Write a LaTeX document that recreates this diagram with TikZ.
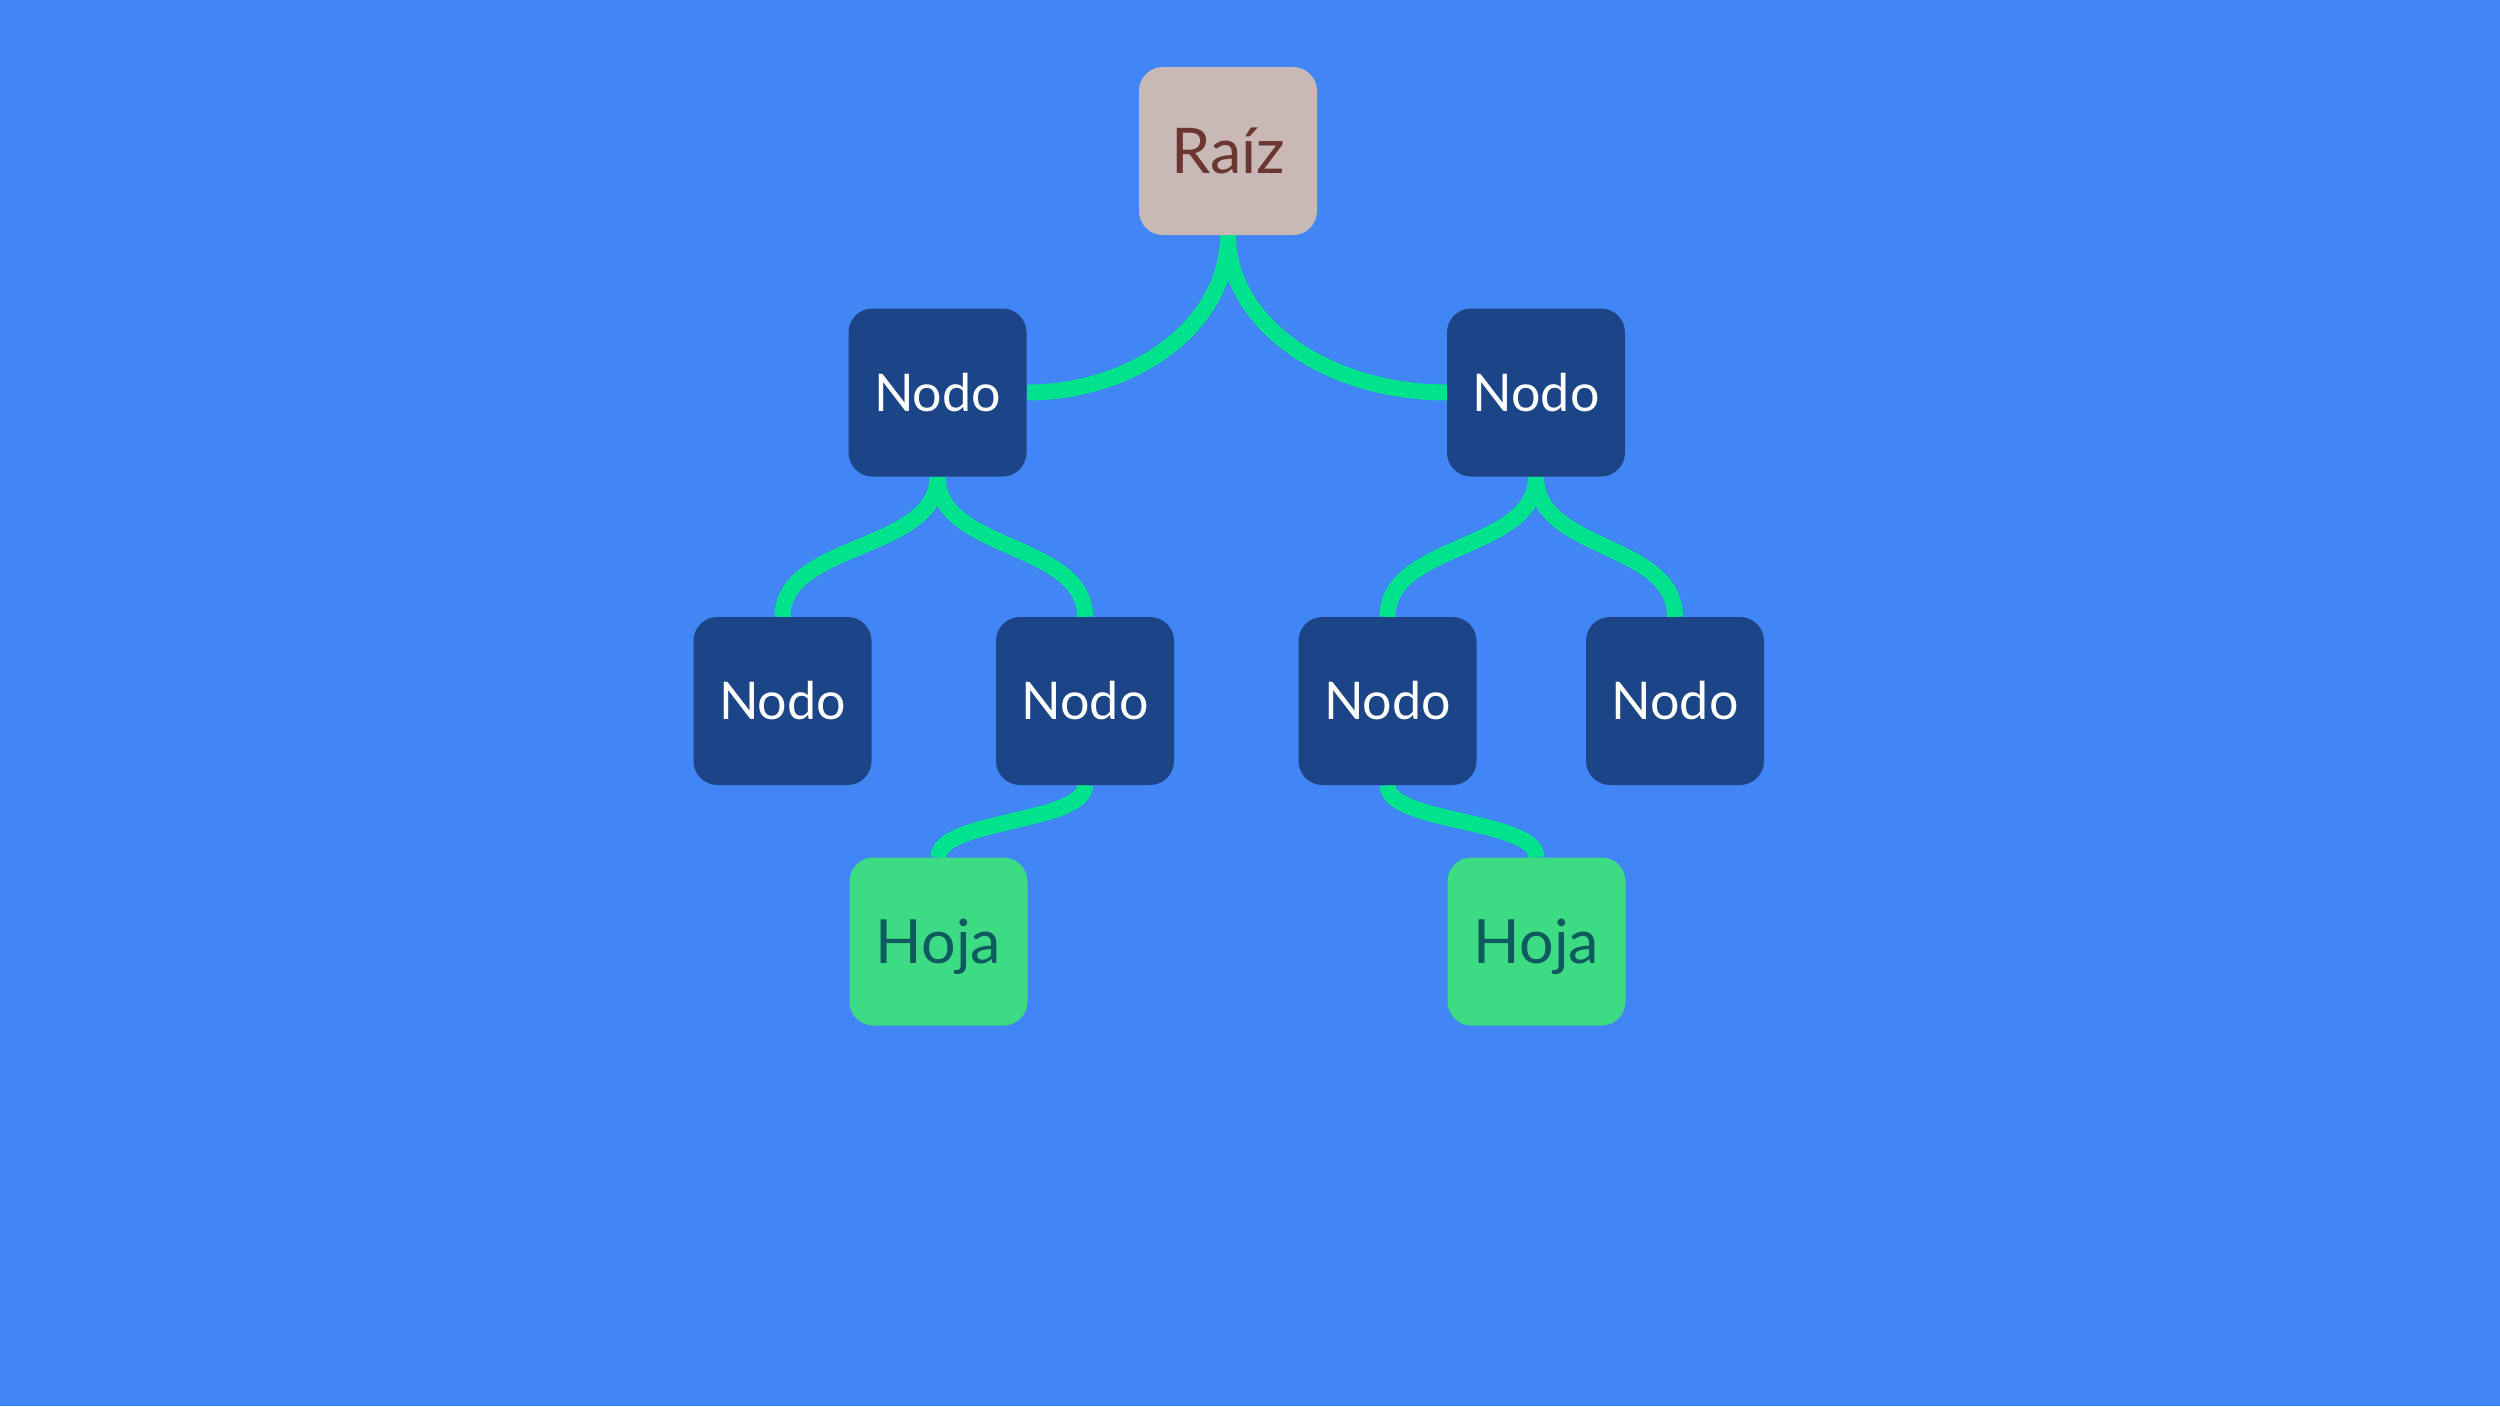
\documentclass[tikz,border=0pt]{standalone}
\usepackage{fontspec}
\setmainfont{Lato}
\usetikzlibrary{backgrounds}
\definecolor{bgblue}{HTML}{4285F4}
\definecolor{nodeblue}{HTML}{1C4587}
\definecolor{rootfill}{HTML}{C9B9B6}
\definecolor{roottext}{HTML}{6B3631}
\definecolor{leaffill}{HTML}{3DDC84}
\definecolor{leaftext}{HTML}{0E5A5E}
\definecolor{conn}{HTML}{00E38C}
\begin{document}
\begin{tikzpicture}[x=1pt,y=-1pt,
  box/.style={rectangle,rounded corners=24pt,minimum width=178pt,minimum height=168pt,inner sep=0pt,anchor=center},
  nodobox/.style={box,fill=nodeblue,text=white,font=\fontsize{52}{62}\selectfont,text height=37pt,text depth=0pt},
  rootbox/.style={box,fill=rootfill,text=roottext,font=\fontsize{63}{75}\selectfont,text height=45pt,text depth=0pt},
  leafbox/.style={box,fill=leaffill,text=leaftext,font=\fontsize{61}{73}\selectfont,text height=44pt,text depth=0pt},
  link/.style={draw=conn,line width=16pt}]
\useasboundingbox (0,0) rectangle (2500,1406);
\node[rootbox] (root) at (1228,151) {Raíz};
\node[nodobox] (l1l) at (937.5,392.5) {Nodo};
\node[nodobox] (l1r) at (1536,392.5) {Nodo};
\node[nodobox] (l2a) at (782.5,701) {Nodo};
\node[nodobox] (l2b) at (1085,701) {Nodo};
\node[nodobox] (l2c) at (1387.5,701) {Nodo};
\node[nodobox] (l2d) at (1675,701) {Nodo};
\node[leafbox] (hl) at (938.5,941.5) {Hoja};
\node[leafbox] (hr) at (1536.5,941.5) {Hoja};
\begin{scope}[on background layer]
\fill[bgblue] (0,0) rectangle (2500,1406);
\draw[link] (root.south) .. controls +(0,88) and +(110,0) .. (l1l.east);
\draw[link] (root.south) .. controls +(0,88) and +(-120,0) .. (l1r.west);
\draw[link] (l1l.south) .. controls +(0,75) and +(0,-75) .. (l2a.north);
\draw[link] (l1l.south) .. controls +(0,75) and +(0,-75) .. (l2b.north);
\draw[link] (l1r.south) .. controls +(0,75) and +(0,-75) .. (l2c.north);
\draw[link] (l1r.south) .. controls +(0,75) and +(0,-75) .. (l2d.north);
\draw[link] (l2b.south) .. controls +(0,38) and +(0,-38) .. (hl.north);
\draw[link] (l2c.south) .. controls +(0,38) and +(0,-38) .. (hr.north);
\end{scope}
\end{tikzpicture}
\end{document}
